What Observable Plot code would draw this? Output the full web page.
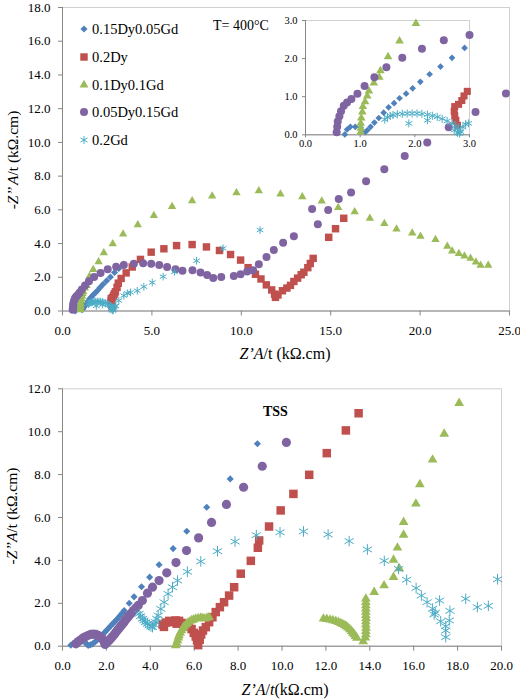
<!DOCTYPE html>
<html><head><meta charset="utf-8">
<script src="https://cdn.jsdelivr.net/npm/d3@7"></script>
<script src="https://cdn.jsdelivr.net/npm/@observablehq/plot@0.6"></script>
<style>
html,body{margin:0;padding:0;background:#fff;}
#root{position:relative;width:520px;height:700px;overflow:hidden;font-family:"Liberation Serif","Times New Roman",serif;color:#000;}
.abs{position:absolute;white-space:nowrap;line-height:1;}
.ctr{transform:translate(-50%,-50%);}
.rot{transform:translate(-50%,-50%) rotate(-90deg);}
</style></head>
<body><div id="root"></div>
<script>
// ---------- series ----------
const names = ["0.15Dy0.05Gd", "0.2Dy", "0.1Dy0.1Gd", "0.05Dy0.15Gd", "0.2Gd"];
const colors = ["#4F81BD", "#C0504D", "#9BBB59", "#8064A2", "#4BACC6"];
const symbols = ["diamond2", "square", "triangle", "circle", "asterisk"];

// ---------- T = 400 °C data [Z'A/t, -Z''A/t] ----------
const t400_Dy15Gd05 = [[0.72,0.01],[0.76,0.14],[0.82,0.21],[0.91,0.21],[1.01,0.19],[1.09,0.07],[1.13,0.12],[1.19,0.21],[1.26,0.32],[1.34,0.44],[1.43,0.58],[1.52,0.72],[1.62,0.83],[1.72,0.96],[1.84,1.08],[1.96,1.22],[2.10,1.39],[2.27,1.59],[2.47,1.79],[2.68,2.02],[2.91,2.28],[3.15,2.52],[3.42,2.78]];
const t400_Dy20 = [[2.78,0.25],[2.75,0.38],[2.73,0.50],[2.72,0.62],[2.73,0.74],[2.80,0.80],[2.86,0.90],[2.90,1.02],[2.96,1.14],[3.05,1.40],[3.12,1.65],[3.28,1.93],[3.56,2.26],[3.90,2.61],[4.36,3.06],[4.96,3.49],[5.67,3.69],[6.38,3.88],[7.25,3.94],[8.05,3.80],[8.78,3.59],[9.40,3.35],[9.96,3.02],[10.38,2.57],[10.79,2.18],[11.10,1.90],[11.40,1.55],[11.70,1.25],[11.86,1.00],[11.91,0.81],[12.05,0.95],[12.30,1.20],[12.55,1.36],[12.75,1.52],[12.94,1.75],[13.15,1.95],[13.35,2.15],[13.50,2.30],[13.72,2.57],[13.86,2.82],[14.02,3.12],[14.89,4.37],[15.27,4.88],[15.73,5.50]];
const t400_Dy10Gd10 = [[1.01,0.07],[1.01,0.17],[1.01,0.30],[1.02,0.44],[1.04,0.60],[1.05,0.74],[1.09,0.87],[1.13,1.02],[1.16,1.15],[1.25,1.36],[1.35,1.51],[1.37,1.68],[1.51,2.05],[1.72,2.46],[2.02,2.92],[2.31,3.45],[2.81,3.98],[3.39,4.56],[4.21,5.11],[5.11,5.66],[6.13,6.19],[7.25,6.54],[8.37,6.82],[9.73,7.01],[10.98,7.13],[12.19,6.93],[13.41,6.77],[14.50,6.52],[15.42,6.14],[16.34,5.88],[17.19,5.50],[18.00,5.19],[18.68,4.86],[19.56,4.62],[20.02,4.43],[20.86,4.23],[21.52,3.84],[21.79,3.55],[22.17,3.41],[22.48,3.26],[22.82,3.12],[23.12,2.90],[23.38,2.71],[23.81,2.71]];
const t400_Dy05Gd15 = [[0.57,0.07],[0.58,0.21],[0.59,0.35],[0.62,0.49],[0.65,0.62],[0.70,0.76],[0.76,0.85],[0.84,0.94],[0.95,1.08],[1.08,1.28],[1.26,1.51],[1.48,1.77],[1.77,2.02],[2.13,2.26],[2.53,2.48],[3.00,2.62],[3.43,2.73],[3.99,2.80],[4.51,2.83],[4.96,2.80],[5.41,2.73],[5.85,2.61],[6.32,2.47],[6.71,2.38],[7.27,2.42],[7.72,2.28],[8.09,2.14],[8.43,1.95],[8.88,2.02],[9.58,2.08],[9.96,2.18],[10.33,2.34],[10.66,2.42],[10.98,2.77],[11.41,3.20],[11.82,3.62],[12.34,4.05],[12.94,4.43],[14.28,5.15],[13.96,6.05],[14.86,5.99],[15.45,6.64],[16.14,7.03],[16.98,7.69],[18.00,8.40],[19.14,9.20],[20.40,10.00],[21.60,10.90],[23.10,11.80],[24.80,12.90]];
const t400_Gd20 = [[1.45,0.40],[1.50,0.46],[1.55,0.50],[1.60,0.52],[1.68,0.54],[1.77,0.55],[1.86,0.56],[1.95,0.56],[2.04,0.56],[2.13,0.55],[2.23,0.53],[2.32,0.50],[2.41,0.47],[2.50,0.42],[2.59,0.36],[2.68,0.30],[2.75,0.24],[2.80,0.16],[2.84,0.08],[2.82,0.03],[2.88,0.20],[2.93,0.28],[2.98,0.30],[1.89,0.30],[2.23,0.38],[2.72,0.12],[2.78,0.05],[3.15,0.62],[3.43,0.91],[3.62,1.05],[3.80,1.10],[4.18,1.20],[4.55,1.44],[5.02,1.69],[5.63,2.04],[6.26,2.32],[7.50,2.98],[8.98,3.72],[11.05,4.80]];

// ---------- TSS data ----------
const tss_Dy15Gd05 = [[0.38,0.05],[0.50,0.14],[0.62,0.22],[0.76,0.27],[0.90,0.25],[1.02,0.19],[1.10,0.10],[1.17,0.03],[1.27,0.06],[1.37,0.11],[1.47,0.19],[1.56,0.27],[1.65,0.36],[1.75,0.45],[1.84,0.55],[1.93,0.65],[2.01,0.74],[2.10,0.84],[2.19,0.94],[2.28,1.04],[2.37,1.13],[2.46,1.23],[2.55,1.33],[2.63,1.43],[2.72,1.54],[2.81,1.66],[3.04,2.00],[3.26,2.30],[3.60,2.77],[3.97,3.22],[4.40,3.80],[5.04,4.55],[5.66,5.36],[6.57,6.48],[7.64,7.80],[8.88,9.44]];
const tss_Dy20 = [[4.56,1.01],[4.62,0.90],[4.70,1.10],[4.86,1.18],[5.00,1.12],[5.15,1.20],[5.20,1.05],[5.31,1.18],[5.45,1.08],[5.60,1.00],[5.75,0.95],[5.88,0.80],[5.98,0.62],[6.07,0.45],[6.13,0.27],[6.18,0.05],[6.25,0.30],[6.32,0.55],[6.40,0.73],[6.53,0.89],[6.68,1.12],[6.83,1.35],[6.98,1.59],[7.17,1.82],[7.36,2.05],[7.59,2.36],[7.82,2.75],[8.12,3.38],[8.58,3.98],[8.90,4.59],[8.96,4.93],[9.41,5.58],[9.94,6.33],[10.52,7.10],[11.24,7.99],[12.04,9.00],[12.91,10.06],[13.49,10.86]];
const tss_Dy10Gd10 = [[5.16,0.03],[5.20,0.15],[5.24,0.27],[5.28,0.40],[5.31,0.50],[5.36,0.62],[5.42,0.73],[5.48,0.83],[5.54,0.92],[5.62,1.00],[5.69,1.07],[5.78,1.14],[5.88,1.20],[5.97,1.24],[6.07,1.28],[6.18,1.30],[6.30,1.32],[6.40,1.30],[6.48,1.28],[6.58,1.32],[6.68,1.35],[11.89,1.28],[12.04,1.26],[12.19,1.23],[12.32,1.20],[12.45,1.17],[12.57,1.12],[12.68,1.07],[12.77,1.02],[12.86,0.97],[12.94,0.92],[13.01,0.86],[13.09,0.78],[13.17,0.70],[13.23,0.62],[13.29,0.55],[13.35,0.47],[13.41,0.39],[13.70,0.22],[13.80,0.40],[13.82,0.55],[13.82,0.70],[13.83,0.85],[13.82,1.00],[13.82,1.15],[13.83,1.30],[13.82,1.45],[13.82,1.60],[13.82,1.75],[13.82,1.90],[13.82,2.05],[13.82,2.21],[14.20,2.52],[14.65,2.83],[15.08,3.22],[15.34,3.63],[15.08,4.02],[15.26,4.59],[15.54,5.19],[15.54,5.78],[16.10,6.64],[16.28,7.54],[16.86,8.69],[17.39,9.90],[18.07,11.33]];
const tss_Dy05Gd15 = [[0.61,0.11],[0.72,0.22],[0.83,0.30],[0.95,0.39],[1.06,0.45],[1.18,0.51],[1.29,0.55],[1.40,0.56],[1.52,0.55],[1.62,0.51],[1.71,0.45],[1.80,0.36],[1.87,0.27],[1.92,0.16],[1.94,0.08],[2.03,0.17],[2.12,0.27],[2.20,0.36],[2.28,0.45],[2.36,0.55],[2.43,0.65],[2.51,0.75],[2.58,0.84],[2.66,0.94],[2.73,1.04],[2.81,1.13],[2.88,1.23],[2.96,1.33],[3.04,1.43],[3.14,1.55],[3.23,1.66],[3.34,1.78],[3.45,1.90],[3.64,2.13],[3.87,2.47],[4.10,2.75],[4.40,3.06],[4.75,3.42],[5.17,3.90],[5.65,4.46],[6.20,5.05],[6.79,5.77],[7.47,6.61],[8.25,7.41],[9.10,8.39],[10.20,9.50]];
const tss_Gd20 = [[3.49,1.51],[3.56,1.40],[3.64,1.28],[3.72,1.20],[3.79,1.12],[3.87,1.04],[3.95,0.97],[4.03,0.92],[4.10,0.89],[4.18,1.00],[4.25,1.12],[4.30,1.28],[4.36,1.43],[4.48,1.74],[4.63,2.05],[4.81,2.44],[5.01,2.75],[5.24,3.06],[5.69,3.47],[6.30,3.95],[7.06,4.43],[7.86,4.88],[8.83,5.18],[9.91,5.31],[10.98,5.35],[12.10,5.21],[13.06,4.90],[13.89,4.51],[14.66,3.98],[15.31,3.60],[15.68,3.10],[16.11,2.71],[16.35,2.36],[16.61,2.05],[16.86,1.75],[16.98,1.56],[17.18,2.13],[16.93,1.48],[17.23,1.16],[17.46,0.93],[17.46,0.42],[17.46,0.73],[17.62,1.20],[17.65,1.65],[18.37,2.21],[18.90,1.82],[19.40,1.88],[19.82,3.12]];

// ---------- ticks ----------
const xTicksTop = [0, 5, 10, 15, 20, 25];
const yTicksTop = [0, 2, 4, 6, 8, 10, 12, 14, 16, 18];
const xTicksInset = [0, 1, 2, 3];
const yTicksInset = [0, 1, 2, 3];
const xTicksTss = [0, 2, 4, 6, 8, 10, 12, 14, 16, 18, 20];
const yTicksTss = [0, 2, 4, 6, 8, 10, 12];

// ---------- texts ----------
const tempLabel = "T= 400°C";
const tssLabel = "TSS";

const topSeries = [t400_Dy15Gd05, t400_Dy20, t400_Dy10Gd10, t400_Dy05Gd15, t400_Gd20];
const tssSeries = [tss_Dy15Gd05, tss_Dy20, tss_Dy10Gd10, tss_Dy05Gd15, tss_Gd20];

const FONT = '"Liberation Serif","Times New Roman",serif';
const AXIS = "#868686", BORDER = "#d0d0d0";
const fmt = d => d.toFixed(1);

function seriesMarks(list, radii, filt) {
  return list.map((pts, i) => {
    const d = filt ? pts.filter(filt) : pts;
    const stroky = symbols[i] === "asterisk";
    return Plot.dot(d, {
      x: p => p[0], y: p => p[1], symbol: symbols[i], r: radii[i],
      fill: stroky ? "none" : colors[i],
      stroke: stroky ? colors[i] : "none",
      strokeWidth: stroky ? 1 : 0
    });
  });
}

function chart(o) {
  return Plot.plot({
    width: o.width, height: o.height,
    marginLeft: o.ml, marginRight: o.mr, marginTop: o.mt, marginBottom: o.mb,
    style: {fontFamily: FONT, fontSize: o.fs + "px", color: "#000", background: "transparent", overflow: "visible"},
    x: {domain: o.xd, label: null},
    y: {domain: o.yd, label: null},
    marks: [
      Plot.frame({stroke: BORDER}),
      Plot.ruleX([o.xd[0]], {stroke: AXIS}),
      Plot.ruleY([o.yd[0]], {stroke: AXIS}),
      Plot.axisX({ticks: o.xt, tickFormat: fmt, tickSize: o.tsx, tickPadding: o.tpx, stroke: AXIS, fill: "#000", label: null}),
      Plot.axisY({ticks: o.yt, tickFormat: fmt, tickSize: o.tsy, tickPadding: o.tpy, stroke: AXIS, fill: "#000", label: null}),
      ...o.marks
    ]
  });
}

const root = document.getElementById("root");
function place(node, left, top) {
  const w = document.createElement("div");
  w.className = "abs"; w.style.left = left + "px"; w.style.top = top + "px";
  w.appendChild(node); root.appendChild(w); return w;
}
function label(html, x, y, cls, extra) {
  const d = document.createElement("div");
  d.className = "abs " + cls; d.style.left = x + "px"; d.style.top = y + "px";
  d.innerHTML = html; Object.assign(d.style, extra || {});
  root.appendChild(d); return d;
}

// main T=400 chart
const topChart = chart({
  width: 520, height: 345, ml: 62, mr: 11, mt: 7, mb: 34.5, fs: 13,
  xd: [0, 25], yd: [0, 18], xt: xTicksTop, yt: yTicksTop,
  tsx: 5, tpx: 10, tsy: 4, tpy: 8,
  marks: seriesMarks(topSeries, [3.2, 4.2, 3.1, 4.0, 3.6])
});
place(topChart, 0, 0);

// inset
const insetChart = chart({
  width: 225, height: 145, ml: 50, mr: 11, mt: 15, mb: 15.7, fs: 10.5,
  xd: [0, 3], yd: [0, 3], xt: xTicksInset, yt: yTicksInset,
  tsx: 3, tpx: 2, tsy: 3, tpy: 5,
  marks: seriesMarks(topSeries, [3.0, 4.0, 3.2, 4.0, 3.8], p => p[0] <= 3.02 && p[1] <= 3.0)
});
place(insetChart, 255, 5);

// TSS chart
const tssChart = chart({
  width: 520, height: 340, ml: 62, mr: 19, mt: 28.3, mb: 54.3, fs: 13,
  xd: [0, 20], yd: [0, 12], xt: xTicksTss, yt: yTicksTss,
  tsx: 5, tpx: 10, tsy: 4, tpy: 8,
  marks: seriesMarks(tssSeries, [3.2, 4.8, 3.6, 4.6, 5.0])
});
place(tssChart, 0, 360);

// legend
const legendRadii = [3.2, 4.2, 3.3, 4.0, 3.8];
const rowY = [29, 57, 85, 112, 140];
const symMap = {diamond2: d3.symbolDiamond2, square: d3.symbolSquare, triangle: d3.symbolTriangle, circle: d3.symbolCircle, asterisk: d3.symbolAsterisk};
names.forEach((n, i) => {
  const size = Math.PI * legendRadii[i] ** 2;
  const path = d3.symbol(symMap[symbols[i]], size)();
  const stroky = symbols[i] === "asterisk";
  const svg = d3.create("svg").attr("width", 12).attr("height", 12).style("position", "absolute").style("overflow", "visible");
  svg.append("path").attr("d", path).attr("transform", "translate(6,6)")
    .attr("fill", stroky ? "none" : colors[i]).attr("stroke", stroky ? colors[i] : "none").attr("stroke-width", 1);
  const s = svg.node(); s.style.left = (84 - 6) + "px"; s.style.top = (rowY[i] - 6) + "px";
  root.appendChild(s);
  label(n, 92, rowY[i], "", {transform: "translateY(-50%)", fontSize: "14.5px"});
});

label(tempLabel, 213, 26, "", {transform: "translateY(-50%)", fontSize: "14px"});
label(tssLabel, 263, 412, "", {transform: "translateY(-50%)", fontSize: "14px", fontWeight: "bold"});

// axis titles
label("<i>Z’A</i>/t (kΩ.cm)", 285, 354, "ctr", {fontSize: "16px"});
label("-<i>Z’’ A</i>/t (kΩ.cm)", 13, 160, "rot", {fontSize: "15.5px"});
label("<i>Z’A</i>/<i>t</i>(kΩ.cm)", 285, 690, "ctr", {fontSize: "16px"});
label("-<i>Z’’A</i>/t (kΩ.cm)", 12, 516, "rot", {fontSize: "15.5px"});
</script>
</body></html>
